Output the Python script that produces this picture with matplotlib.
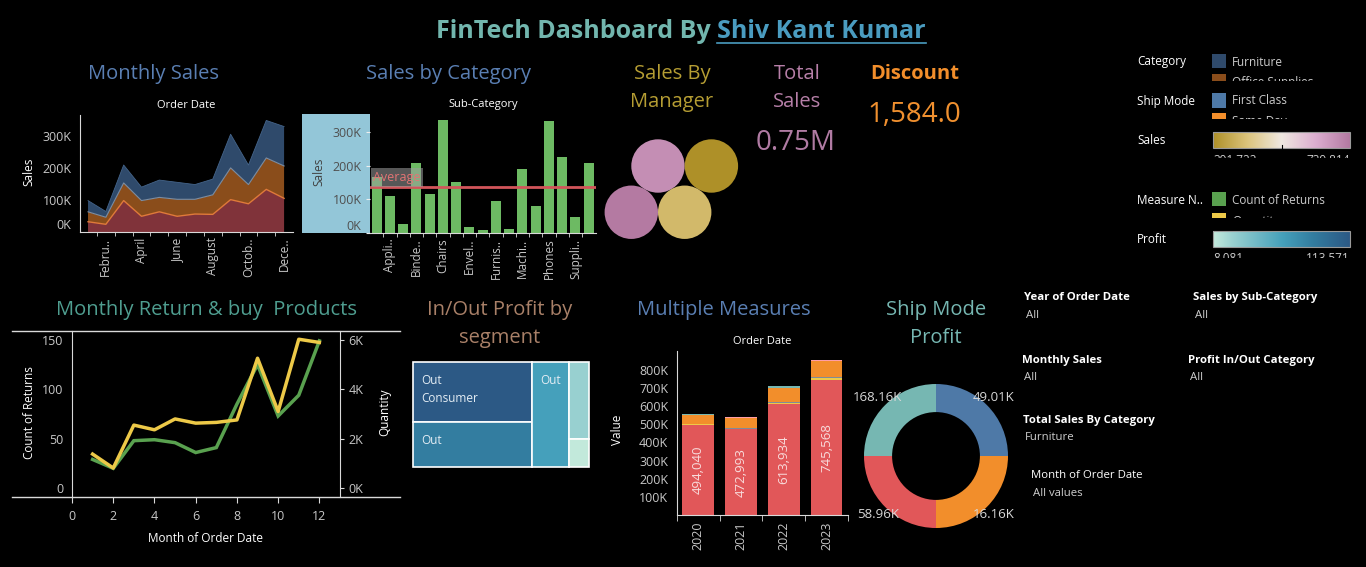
import numpy as np
import matplotlib
matplotlib.use('Agg')
import matplotlib.pyplot as plt
from matplotlib.patches import Rectangle, Circle
from matplotlib.colors import LinearSegmentedColormap, Normalize
from matplotlib.transforms import Bbox

plt.rcParams['font.family'] = ['Open Sans', 'DejaVu Sans']

W, H = 1366, 567

# ---------------- data ----------------
months = list(range(1, 13))
month_tick_pos = [2, 4, 6, 8, 10, 12]
month_tick_labels = ['Febru..', 'April', 'June', 'August', 'Octob..', 'Dece..']
sales_technology = [32000, 24000, 98000, 49000, 63000, 49000, 56000, 55000, 101000, 88000, 133000, 105000]
sales_office = [31000, 22000, 55000, 49000, 45000, 53000, 46000, 61000, 99000, 60000, 98000, 101000]
sales_furniture = [35000, 18000, 56000, 42000, 54000, 53000, 46000, 49000, 105000, 61000, 117000, 123000]

sub_categories = ['Accessories', 'Appliances', 'Art', 'Binders', 'Bookcases', 'Chairs', 'Copiers',
                  'Envelopes', 'Fasteners', 'Furnishings', 'Labels', 'Machines', 'Paper', 'Phones',
                  'Storage', 'Supplies', 'Tables']
sub_sales = [168000, 111000, 28000, 209000, 117000, 337000, 152000, 19000, 10000, 96000, 13000,
             191000, 81000, 334000, 227000, 48000, 209000]
sub_tick_idx = [1, 3, 5, 7, 9, 11, 13, 15]
sub_tick_labels = ['Appli..', 'Binde..', 'Chairs', 'Envel..', 'Furnis..', 'Machi..', 'Phones', 'Suppli..']

managers = ['Kelly Williams', 'Anna Andreadi', 'Chuck Magee', 'Cassandra Brandow']
manager_sales = [705000, 391722, 739814, 461000]
sales_legend_min, sales_legend_max = 391722, 739814

total_sales = 750000
discount_total = 1584.0

returns_count = [29, 20, 48, 49, 46, 36, 41, 85, 125, 73, 94, 149]
quantity = [1375, 810, 2550, 2360, 2800, 2630, 2660, 2760, 5260, 3100, 6030, 5900]

profit_labels = ['Out\nConsumer', 'Out', 'Out', '', '']
profit_values = [113571, 85200, 61800, 24000, 9000]
profit_groups = [0, 0, 1, 2, 2]
profit_legend_min, profit_legend_max = 8081, 113571

years = ['2020', '2021', '2022', '2023']
mm_sales = [494040, 472993, 613934, 745568]
mm_quantity = [5000, 2000, 5500, 8500]
mm_discount = [1500, 3000, 2000, 5000]
mm_profit = [48000, 56000, 80000, 88000]
mm_returns = [6000, 1500, 7000, 2500]
mm_other = [3000, 5000, 2000, 6000]

ship_modes = ['First Class', 'Same Day', 'Second Class', 'Standard Class']
ship_profit = [49010, 16160, 58960, 168160]
ship_mode_count = [1, 1, 1, 1]

# ---------------- figure ----------------
fig = plt.figure(figsize=(W / 100, H / 100), dpi=100, facecolor='black')


def pax(x0, y0, x1, y1, **kw):
    ax = fig.add_axes([x0 / W, 1 - y1 / H, (x1 - x0) / W, (y1 - y0) / H], **kw)
    ax.set_facecolor('none')
    return ax


bg = pax(0, 0, W, H, zorder=-5, label='bg')
fg = pax(0, 0, W, H, zorder=20, label='fg')
for a in (bg, fg):
    a.set_xlim(0, W)
    a.set_ylim(H, 0)
    a.axis('off')

TICK = '#c8c8c8'
SPINE = '#d9d9d9'
HS = 14.5  # section heading size


def T(x, y, s, size=9, color='#dddddd', ha='center', va='center', weight='normal', clip=None, **kw):
    t = fg.text(x, y, s, fontsize=size, color=color, ha=ha, va=va, fontweight=weight, **kw)
    if clip is not None:
        t.set_clip_box(Bbox.from_extents(clip[0], H - clip[3], clip[2], H - clip[1]))
        t.set_clip_on(True)
    else:
        t.set_clip_on(False)
    return t


def base_style(ax):
    for s in ax.spines.values():
        s.set_visible(False)
    ax.tick_params(colors=TICK, labelsize=8.5, length=0)


def kfmt(v):
    return f'{int(round(v / 1000))}K'


# ---------------- title ----------------
t1 = T(436, 32, 'FinTech Dashboard By ', 18, '#72b6ae', ha='left', weight='bold')
fig.canvas.draw()
r = fig.canvas.get_renderer()
ext = t1.get_window_extent(r)
t2 = T(ext.x1, 32, 'Shiv Kant Kumar', 18, '#4a9cc0', ha='left', weight='bold')
ext2 = t2.get_window_extent(r)
fg.plot([ext2.x0, ext2.x1], [42.5, 42.5], color='#4a9cc0', lw=1.2)

# ---------------- Monthly Sales ----------------
T(153, 74, 'Monthly Sales', HS, '#5a7fb3')
T(186, 105, 'Order Date', 8, 'white')
T(29, 172, 'Sales', 8.5, 'white', rotation=90)
ax1 = pax(80, 115, 293, 232)
base_style(ax1)
stack = np.vstack([sales_technology, sales_office, sales_furniture])
ax1.stackplot(months, stack, colors=['#80333a', '#8a4d1b', '#2f4a6b'], lw=0)
cum = np.cumsum(stack, axis=0)
ax1.plot(months, cum[0], color='#e07a3a', lw=1)
ax1.plot(months, cum[1], color='#7d8ea3', lw=0.8)
ax1.plot(months, cum[2], color='#44648a', lw=0.6)
ax1.set_xlim(0.55, 12.5)
ax1.set_ylim(0, 365000)
ax1.spines['left'].set_visible(True)
ax1.spines['bottom'].set_visible(True)
ax1.spines['left'].set_color(SPINE)
ax1.spines['bottom'].set_color(SPINE)
ax1.set_yticks([0, 100000, 200000, 300000])
ax1.set_yticklabels([kfmt(v) for v in [0, 100000, 200000, 300000]])
ax1.get_yticklabels()[0].set_verticalalignment('bottom')
ax1.tick_params(axis='y', pad=6, labelsize=9)
ax1.set_xticks(month_tick_pos)
ax1.set_xticklabels(month_tick_labels, rotation=90)
ax1.set_xticks([m + 0.5 for m in months[:-1]], minor=True)
ax1.tick_params(axis='x', which='minor', length=3, color=SPINE, direction='out')
ax1.tick_params(axis='x', which='major', pad=4)

# ---------------- Sales by Category ----------------
T(449, 74, 'Sales by Category', HS, '#5a7fb3')
T(483, 105, 'Sub-Category', 8, 'white')
bg.add_patch(Rectangle((302, 114), 68, 119, facecolor='#93c6d8', edgecolor='none'))
T(319, 172, 'Sales', 8.5, '#404040', rotation=90)
ax2 = pax(370, 114, 596, 233)
base_style(ax2)
xs = np.arange(len(sub_categories))
ax2.bar(xs, sub_sales, width=0.755, color='#6dba63')
avg = float(np.mean(sub_sales))
ax2.axhline(avg, color='#d2555a', lw=2)
ax2.set_xlim(-0.5, 16.55)
ax2.set_ylim(0, 355000)
ax2.spines['bottom'].set_visible(True)
ax2.spines['bottom'].set_color(SPINE)
ax2.set_yticks([0, 100000, 200000, 300000])
ax2.set_yticklabels([kfmt(v) for v in [0, 100000, 200000, 300000]])
ax2.get_yticklabels()[0].set_verticalalignment('bottom')
ax2.tick_params(axis='y', colors='#eeeeee', labelcolor='#505050', length=3, direction='out', pad=3,
                labelsize=9)
ax2.set_xticks(sub_tick_idx)
ax2.set_xticklabels(sub_tick_labels, rotation=90)
ax2.set_xticks([i + 0.5 for i in xs[:-1]], minor=True)
ax2.tick_params(axis='x', which='minor', length=3, color=SPINE, direction='out')
ax2.tick_params(axis='x', which='major', pad=4)
fg.add_patch(Rectangle((371, 168), 52, 19, facecolor='#a0a0a0', alpha=0.55, edgecolor='none'))
T(397, 178, 'Average', 9, '#e27474')

# ---------------- Sales by Manager ----------------
T(672, 74, 'Sales By', HS, '#b59d33')
T(672, 102, 'Manager', HS, '#b59d33')
sales_cmap = LinearSegmentedColormap.from_list(
    'sales', ['#ae9028', '#dcc47c', '#efe8e0', '#dcaed0', '#b47aa2'])
snorm = Normalize(sales_legend_min, sales_legend_max)
rad = 26.7
for i, v in enumerate(manager_sales):
    row, col = divmod(i, 2)
    cx = 658 + col * 2 * rad - row * rad
    cy = 166 + row * rad * np.sqrt(3)
    bg.add_patch(Circle((cx, cy), rad, facecolor=sales_cmap(snorm(v)), edgecolor='none'))

# ---------------- KPIs ----------------
T(797, 74, 'Total', HS, '#b77fa8')
T(797, 102, 'Sales', HS, '#b77fa8')
T(796, 143, f'{total_sales / 1e6:.2f}M', 20, '#b07ba3')
T(915, 74, 'Discount', HS, '#f28e2b', weight='bold')
T(914, 115, f'{discount_total:,.1f}', 20, '#f0902f')

# ---------------- legends ----------------
def swatch(y0, y1, color):
    fg.add_patch(Rectangle((1212, y0), 14, y1 - y0, facecolor=color, edgecolor='none'))


LS = 8.5
T(1137, 62, 'Category', LS, 'white', ha='left')
swatch(54.3, 67.7, '#2f4a6b')
T(1232, 62, 'Furniture', LS, '#cccccc', ha='left')
swatch(74.3, 81, '#8a4d1b')
T(1232, 82.5, 'Office Supplies', LS, '#cccccc', ha='left', clip=(1200, 70, 1366, 81))

T(1137, 101, 'Ship Mode', LS, 'white', ha='left')
swatch(93.3, 107.7, '#4e79a7')
T(1232, 101, 'First Class', LS, '#cccccc', ha='left')
swatch(113.3, 119, '#f28e2b')
T(1232, 121.5, 'Same Day', LS, '#cccccc', ha='left', clip=(1200, 110, 1366, 119))

T(1137, 141, 'Sales', LS, 'white', ha='left')
grad = np.linspace(0, 1, 256)[None, :]
fg.imshow(grad, extent=(1213.3, 1350, 147.7, 132.3), cmap=sales_cmap, aspect='auto', zorder=2)
fg.add_patch(Rectangle((1213.3, 132.3), 136.7, 15.4, facecolor='none', edgecolor='#9a9a9a', lw=0.8, zorder=3))
fg.plot([1281.7, 1281.7], [144.5, 147.7], color='black', lw=0.8, zorder=4)
T(1213, 160.5, f'{sales_legend_min:,}', LS, '#cccccc', ha='left', clip=(1200, 150, 1366, 158.3))
T(1350, 160.5, f'{sales_legend_max:,}', LS, '#cccccc', ha='right', clip=(1200, 150, 1366, 158.3))

T(1137, 200, 'Measure N..', LS, 'white', ha='left')
swatch(192, 206, '#59a14f')
T(1232, 200, 'Count of Returns', LS, '#cccccc', ha='left')
swatch(212.7, 218.3, '#edc948')
T(1232, 221.5, 'Quantity', LS, '#cccccc', ha='left', clip=(1200, 209, 1366, 218.3))

T(1137, 239.3, 'Profit', LS, 'white', ha='left')
profit_cmap = LinearSegmentedColormap.from_list(
    'profit', [(0, '#c4eadc'), (0.15, '#98d0d0'), (0.51, '#45a0bb'), (0.73, '#337da0'), (1, '#2c5985')])
pnorm = Normalize(profit_legend_min, profit_legend_max)
fg.imshow(grad, extent=(1213.3, 1350, 246.7, 231), cmap=profit_cmap, aspect='auto', zorder=2)
fg.add_patch(Rectangle((1213.3, 231), 136.7, 15.7, facecolor='none', edgecolor='#9a9a9a', lw=0.8, zorder=3))
T(1213, 259, f'{profit_legend_min:,}', LS, '#cccccc', ha='left', clip=(1200, 249, 1366, 258.3))
T(1350, 259, f'{profit_legend_max:,}', LS, '#cccccc', ha='right', clip=(1200, 249, 1366, 258.3))

# ---------------- Monthly Return & buy Products ----------------
T(207, 310, 'Monthly Return & buy  Products', HS, '#4f9e90')
ax4 = pax(72, 331, 340, 497)
base_style(ax4)
ax4.plot(months, returns_count, color='#59a14f', lw=2.5, solid_joinstyle='miter')
ax4.set_xlim(0, 13)
ax4.set_ylim(-9, 159)
ax4.spines['left'].set_visible(True)
ax4.spines['left'].set_color(SPINE)
ax4.set_yticks([0, 50, 100, 150])
ax4.tick_params(axis='y', pad=6, labelsize=9)
ax4.set_xticks(range(0, 13, 2))
ax4.tick_params(axis='x', length=4, color=SPINE, direction='out', pad=5, labelsize=9)
ax4b = ax4.twinx()
ax4b.set_facecolor('none')
for s in ax4b.spines.values():
    s.set_visible(False)
ax4b.spines['right'].set_visible(True)
ax4b.spines['right'].set_color(SPINE)
ax4b.plot(months, quantity, color='#edc948', lw=2.5)
ax4b.set_ylim(-364, 6364)
ax4b.set_yticks([0, 2000, 4000, 6000])
ax4b.set_yticklabels([kfmt(v) for v in [0, 2000, 4000, 6000]])
ax4b.tick_params(axis='y', colors=SPINE, labelcolor=TICK, length=3, direction='out', pad=3, labelsize=9)
bg.plot([12, 400], [331, 331], color=SPINE, lw=1)
bg.plot([12, 400], [497, 497], color=SPINE, lw=1)
T(29.3, 412.7, 'Count of Returns', 8.5, 'white', rotation=90)
T(385, 412.7, 'Quantity', 8.5, 'white', rotation=90)
T(206, 539, 'Month of Order Date', 8.5, 'white')

# ---------------- In/Out Profit treemap ----------------
T(500, 310, 'In/Out Profit by', HS, '#a98068')
T(500, 338, 'segment', HS, '#a98068')
tx0, ty0, tx1, ty1 = 413.3, 362.3, 588.7, 467.3
pv = np.array(profit_values, dtype=float)
total_p = pv.sum()
gx = tx0
for g in sorted(set(profit_groups)):
    idx = [i for i, gg in enumerate(profit_groups) if gg == g]
    gsum = pv[idx].sum()
    gw = gsum / total_p * (tx1 - tx0)
    gy = ty0
    for i in idx:
        gh = pv[i] / gsum * (ty1 - ty0)
        bg.add_patch(Rectangle((gx, gy), gw, gh, facecolor=profit_cmap(pnorm(pv[i])),
                               edgecolor='white', lw=1.2))
        for k, line in enumerate(profit_labels[i].split('\n')):
            if line:
                T(gx + 8, gy + 18 + 18 * k, line, 8.5, '#e4edf4', ha='left')
        gy += gh
    gx += gw

# ---------------- Multiple Measures ----------------
T(724, 310, 'Multiple Measures', HS, '#5a7fb3')
T(762, 341, 'Order Date', 8, 'white')
T(617.3, 430, 'Value', 8.5, 'white', rotation=90)
ax5 = pax(676.7, 350.7, 848, 515)
base_style(ax5)
xs5 = np.arange(len(years))
bottom = np.zeros(len(years))
for vals, col in [(mm_sales, '#e15759'), (mm_quantity, '#edc948'), (mm_discount, '#7f8c99'),
                  (mm_profit, '#f28e2b'), (mm_returns, '#76b7b2'), (mm_other, '#ff9da7')]:
    ax5.bar(xs5, vals, 0.74, bottom=bottom, color=col)
    bottom += np.array(vals)
for i, v in enumerate(mm_sales):
    ax5.text(i, v / 2, f'{v:,}', rotation=90, ha='center', va='center', color='#f8dcdc', fontsize=9.5)
ax5.set_xlim(-0.5, 3.5)
ax5.set_ylim(0, 905000)
ax5.spines['left'].set_visible(True)
ax5.spines['bottom'].set_visible(True)
ax5.spines['left'].set_color(SPINE)
ax5.spines['bottom'].set_color(SPINE)
yt = list(range(100000, 900000, 100000))
ax5.set_yticks(yt)
ax5.set_yticklabels([kfmt(v) for v in yt])
ax5.tick_params(axis='y', pad=6, labelsize=9)
ax5.set_xticks(xs5)
ax5.set_xticklabels(years, rotation=90)
ax5.set_xticks([i - 0.5 for i in range(len(years) + 1)], minor=True)
ax5.tick_params(axis='x', which='minor', length=4, color=SPINE, direction='out')
ax5.tick_params(axis='x', which='major', pad=5, labelsize=9)

# ---------------- Ship Mode Profit donut ----------------
T(936, 310, 'Ship Mode', HS, '#76b7b2')
T(936, 338, 'Profit', HS, '#76b7b2')
ax6 = pax(864, 384, 1008, 528)
ax6.pie(ship_mode_count, colors=['#4e79a7', '#f28e2b', '#e15759', '#76b7b2'], startangle=90,
        counterclock=False, radius=1, wedgeprops=dict(width=0.39, edgecolor='none'))
ax6.set_xlim(-1, 1)
ax6.set_ylim(-1, 1)
tot = sum(ship_mode_count)
acc = 0
for c, p in zip(ship_mode_count, ship_profit):
    mid = np.deg2rad(90 - (acc + c / 2) / tot * 360)
    ax6.text(1.14 * np.cos(mid), 1.14 * np.sin(mid), f'{p / 1000:.2f}K', ha='center', va='center',
             color='#d8d8d8', fontsize=9.5, clip_on=False)
    acc += c

# ---------------- filters ----------------
filters = [
    (1024.3, 297.7, 'Year of Order Date', 'All', True),
    (1193, 297.7, 'Sales by Sub-Category', 'All', True),
    (1021.7, 360, 'Monthly Sales', 'All', True),
    (1187.7, 360, 'Profit In/Out Category', 'All', True),
    (1023, 420, 'Total Sales By Category', 'Furniture', True),
    (1031, 475, 'Month of Order Date', 'All values', False),
]
for x, y, head, val, bold in filters:
    T(x, y, head, 8.2, 'white', ha='left', weight='bold' if bold else 'normal')
    T(x + 2, y + 18, val, 8.2, '#cfcfcf', ha='left')

fg.set_xlim(0, W)
fg.set_ylim(H, 0)
fig.savefig('out.png', dpi=100, facecolor='black')
